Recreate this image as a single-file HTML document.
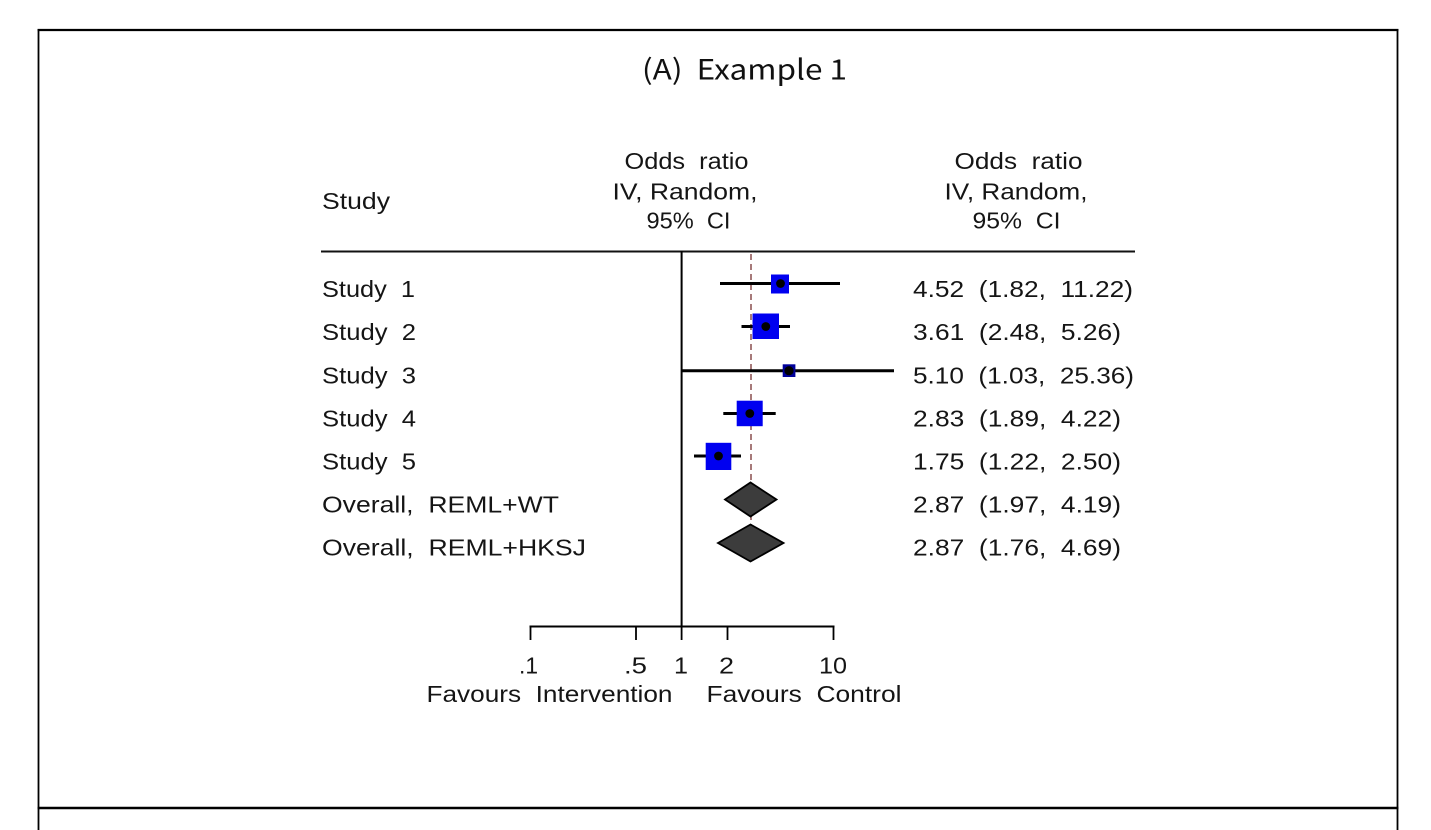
<!DOCTYPE html>
<html>
<head>
<meta charset="utf-8">
<style>
  html, body { margin:0; padding:0; background:#ffffff; }
  body { width:1431px; height:830px; overflow:hidden; }
  svg { display:block; }
  .t { font-family:"Liberation Sans", Arial, sans-serif; font-size:23px; fill:#151515; white-space:pre; }
  .ti { font-family:"Noto Sans CJK JP", "Liberation Sans", sans-serif; font-size:28px; fill:#111; white-space:pre; }
</style>
</head>
<body>
<svg width="1431" height="830" viewBox="0 0 1431 830" xmlns="http://www.w3.org/2000/svg" xml:space="preserve">
  <rect x="0" y="0" width="1431" height="830" fill="#fff"/>
  <!-- panel border -->
  <line x1="38.5" y1="29" x2="38.5" y2="830" stroke="#000" stroke-width="1.8"/>
  <line x1="1397.5" y1="29" x2="1397.5" y2="830" stroke="#000" stroke-width="1.8"/>
  <line x1="37.6" y1="30" x2="1398.4" y2="30" stroke="#000" stroke-width="2.2"/>
  <line x1="37.6" y1="808" x2="1398.4" y2="808" stroke="#000" stroke-width="2.6"/>

  <!-- title -->
  <text class="ti" x="642" y="79.5" textLength="205" lengthAdjust="spacingAndGlyphs">(A)  Example 1</text>

  <!-- headers -->
  <text class="t" x="322" y="209" textLength="68" lengthAdjust="spacingAndGlyphs">Study</text>

  <text class="t" x="624.5" y="169" textLength="124" lengthAdjust="spacingAndGlyphs">Odds  ratio</text>
  <text class="t" x="612.5" y="199.5" textLength="145" lengthAdjust="spacingAndGlyphs">IV, Random,</text>
  <text class="t" x="646.5" y="228.5" textLength="84" lengthAdjust="spacingAndGlyphs">95%  CI</text>

  <text class="t" x="954.5" y="169" textLength="128" lengthAdjust="spacingAndGlyphs">Odds  ratio</text>
  <text class="t" x="944.5" y="199.5" textLength="143" lengthAdjust="spacingAndGlyphs">IV, Random,</text>
  <text class="t" x="972.5" y="228.5" textLength="88" lengthAdjust="spacingAndGlyphs">95%  CI</text>

  <line x1="321" y1="251.5" x2="1135" y2="251.5" stroke="#111" stroke-width="2"/>

  <!-- study labels -->
  <text class="t" x="322" y="297" textLength="93" lengthAdjust="spacingAndGlyphs">Study  1</text>
  <text class="t" x="322" y="340" textLength="94" lengthAdjust="spacingAndGlyphs">Study  2</text>
  <text class="t" x="322" y="383.5" textLength="94" lengthAdjust="spacingAndGlyphs">Study  3</text>
  <text class="t" x="322" y="426.5" textLength="94" lengthAdjust="spacingAndGlyphs">Study  4</text>
  <text class="t" x="322" y="469.5" textLength="94" lengthAdjust="spacingAndGlyphs">Study  5</text>
  <text class="t" x="322" y="512.5" textLength="237" lengthAdjust="spacingAndGlyphs">Overall,  REML+WT</text>
  <text class="t" x="322" y="555.5" textLength="264" lengthAdjust="spacingAndGlyphs">Overall,  REML+HKSJ</text>

  <!-- estimates -->
  <text class="t" x="913" y="297" textLength="220" lengthAdjust="spacingAndGlyphs">4.52  (1.82,  11.22)</text>
  <text class="t" x="913" y="340" textLength="208" lengthAdjust="spacingAndGlyphs">3.61  (2.48,  5.26)</text>
  <text class="t" x="913" y="383.5" textLength="221" lengthAdjust="spacingAndGlyphs">5.10  (1.03,  25.36)</text>
  <text class="t" x="913" y="426.5" textLength="208" lengthAdjust="spacingAndGlyphs">2.83  (1.89,  4.22)</text>
  <text class="t" x="913" y="469.5" textLength="208" lengthAdjust="spacingAndGlyphs">1.75  (1.22,  2.50)</text>
  <text class="t" x="913" y="512.5" textLength="208" lengthAdjust="spacingAndGlyphs">2.87  (1.97,  4.19)</text>
  <text class="t" x="913" y="555.5" textLength="208" lengthAdjust="spacingAndGlyphs">2.87  (1.76,  4.69)</text>

  <!-- null line -->
  <line x1="681.6" y1="251" x2="681.6" y2="627" stroke="#000" stroke-width="2"/>

  <!-- overall dashed line -->
  <line x1="751" y1="254" x2="751" y2="540" stroke="#8a4e4e" stroke-width="1.5" stroke-dasharray="6,4"/>

  <!-- study 1 -->
  <line x1="720" y1="283.5" x2="840" y2="283.5" stroke="#000" stroke-width="3"/>
  <rect x="771" y="274.5" width="18" height="19" fill="#0000f0"/>
  <circle cx="780.5" cy="283.5" r="4.4" fill="#000"/>
  <!-- study 2 -->
  <line x1="741.5" y1="326.5" x2="790" y2="326.5" stroke="#000" stroke-width="3"/>
  <rect x="752.5" y="313.5" width="26.5" height="25.5" fill="#0000f0"/>
  <circle cx="765.8" cy="326.5" r="4.4" fill="#000"/>
  <!-- study 3 -->
  <line x1="681.6" y1="370.7" x2="894" y2="370.7" stroke="#000" stroke-width="3"/>
  <rect x="782.7" y="364.3" width="12.7" height="12.7" fill="#00009a"/>
  <circle cx="789" cy="370.7" r="4.6" fill="#000"/>
  <!-- study 4 -->
  <line x1="723.3" y1="413.5" x2="775.7" y2="413.5" stroke="#000" stroke-width="3"/>
  <rect x="736.7" y="400.7" width="26" height="25.5" fill="#0000f0"/>
  <circle cx="749.8" cy="413.5" r="4.4" fill="#000"/>
  <!-- study 5 -->
  <line x1="694" y1="456" x2="741" y2="456" stroke="#000" stroke-width="3"/>
  <rect x="705.7" y="442.8" width="25.6" height="27.2" fill="#0000f0"/>
  <circle cx="718.5" cy="456" r="4.4" fill="#000"/>

  <!-- diamonds -->
  <polygon points="725,499.5 750.5,482.5 776.5,499.5 750.5,516.5" fill="#3c3c3c" stroke="#000" stroke-width="1.8" stroke-linejoin="miter"/>
  <polygon points="718,543 750.5,524.5 783.5,543 750.5,561.5" fill="#3c3c3c" stroke="#000" stroke-width="1.8" stroke-linejoin="miter"/>

  <!-- x axis -->
  <line x1="529.5" y1="626.5" x2="834.5" y2="626.5" stroke="#000" stroke-width="2"/>
  <line x1="530.5" y1="626" x2="530.5" y2="640" stroke="#000" stroke-width="1.8"/>
  <line x1="636" y1="626" x2="636" y2="640" stroke="#000" stroke-width="1.8"/>
  <line x1="681.6" y1="626" x2="681.6" y2="640" stroke="#000" stroke-width="1.8"/>
  <line x1="727.5" y1="626" x2="727.5" y2="640" stroke="#000" stroke-width="1.8"/>
  <line x1="833.5" y1="626" x2="833.5" y2="640" stroke="#000" stroke-width="1.8"/>

  <text class="t" x="519" y="673.5" textLength="19" lengthAdjust="spacingAndGlyphs">.1</text>
  <text class="t" x="624" y="673.5" textLength="23" lengthAdjust="spacingAndGlyphs">.5</text>
  <text class="t" x="674" y="673.5" textLength="14" lengthAdjust="spacingAndGlyphs">1</text>
  <text class="t" x="719" y="673.5" textLength="15" lengthAdjust="spacingAndGlyphs">2</text>
  <text class="t" x="819" y="673.5" textLength="28" lengthAdjust="spacingAndGlyphs">10</text>

  <text class="t" x="426.5" y="702" textLength="246" lengthAdjust="spacingAndGlyphs">Favours  Intervention</text>
  <text class="t" x="706.5" y="702" textLength="195" lengthAdjust="spacingAndGlyphs">Favours  Control</text>
</svg>
</body>
</html>
